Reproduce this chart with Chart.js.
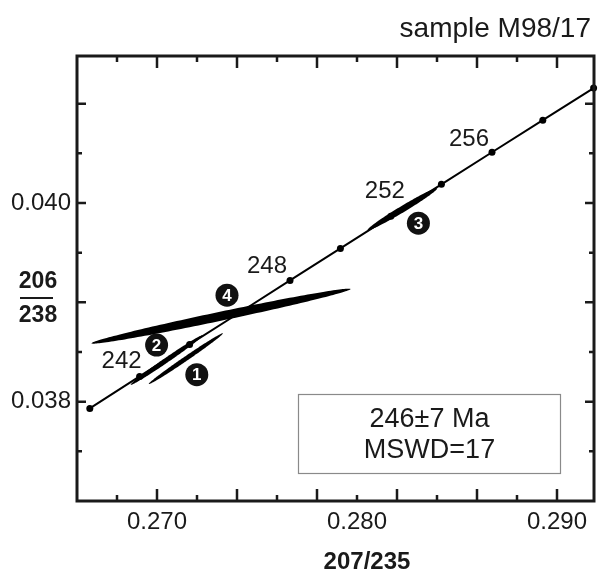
<!DOCTYPE html>
<html>
<head>
<meta charset="utf-8">
<script src="https://cdn.jsdelivr.net/npm/chart.js@4/dist/chart.umd.min.js"></script>
<style>
  html, body { margin: 0; padding: 0; background: #fff; }
  #wrap { width: 598px; height: 576px; }
</style>
</head>
<body>
<div id="wrap"><canvas id="concordia"></canvas></div>
<script>
// concordia nodes, every 2 Ma
const ages = [240, 242, 244, 246, 248, 250, 252, 254, 256, 258, 260];
const ratio207_235 = [0.26664, 0.26913, 0.27163, 0.27414, 0.27665, 0.27917, 0.28169, 0.28422, 0.28675, 0.28929, 0.29183];
const ratio206_238 = [0.037932, 0.038254, 0.038576, 0.038898, 0.039221, 0.039543, 0.039866, 0.040188, 0.040511, 0.040834, 0.041157];
const labelledAges = [242, 248, 252, 256];

// spot analyses: centre, error half-widths and x-y error correlation
const spots = ["1", "2", "3", "4"];
const spotX = [0.27144, 0.27048, 0.28227, 0.27320];
const spotSx = [0.001854, 0.001797, 0.001738, 0.006475];
const spotY = [0.038433, 0.038419, 0.039938, 0.038861];
const spotSy = [0.0002559, 0.0002495, 0.0002117, 0.0002769];
const spotRho = [0.9940, 0.9925, 0.9842, 0.9859];

const xTickLabels = ["0.270", "0.280", "0.290"];
const yTickLabels = ["0.038", "0.040"];
const resultLines = ["246\u00b17 Ma", "MSWD=17"];

const FONT = "'Liberation Sans', Arial, Helvetica, sans-serif";
const INK = "#1a1a1a";
const X_STEP = 0.002;
const Y_STEP = 0.0005;

// where the annotations sit, in pixels
const ageLabelOffset = { 242: [-18, -15], 248: [-23, -14], 252: [-6, -25], 256: [-23, -13] };
const spotBadgeOffset = [[11, 16], [-10, -15], [16, 14], [6, -21]];
const resultBox = { left: 298.5, top: 394.5, width: 262, height: 79 };

function findLabel(list, value) {
  return list.find(l => Math.abs(parseFloat(l) - value) < 1e-7) || "";
}

// error ellipses, filled black, under the concordia
const ellipses = {
  id: "ellipses",
  beforeDatasetsDraw(chart) {
    const { ctx, scales: { x, y } } = chart;
    ctx.save();
    ctx.fillStyle = "#000";
    spots.forEach((s, i) => {
      const k = Math.sqrt(1 - spotRho[i] * spotRho[i]);
      ctx.beginPath();
      for (let j = 0; j <= 180; j++) {
        const t = (j / 180) * Math.PI * 2;
        const vx = spotX[i] + spotSx[i] * Math.cos(t);
        const vy = spotY[i] + spotSy[i] * (spotRho[i] * Math.cos(t) + k * Math.sin(t));
        const px = x.getPixelForValue(vx);
        const py = y.getPixelForValue(vy);
        if (j === 0) ctx.moveTo(px, py); else ctx.lineTo(px, py);
      }
      ctx.closePath();
      ctx.fill();
    });
    ctx.restore();
  }
};

// box frame with inward ticks on all four sides
const frame = {
  id: "frame",
  afterDraw(chart) {
    const { ctx, chartArea: a, scales: { x, y } } = chart;
    ctx.save();
    ctx.strokeStyle = INK;
    ctx.lineWidth = 2.5;
    ctx.beginPath();
    x.ticks.forEach(t => {
      const px = x.getPixelForValue(t.value);
      if (px < a.left + 2 || px > a.right - 2) return;
      const len = Math.round((t.value - x.min) / X_STEP) % 2 === 0 ? 12 : 6;
      ctx.moveTo(px, a.bottom); ctx.lineTo(px, a.bottom - len);
      ctx.moveTo(px, a.top); ctx.lineTo(px, a.top + len);
    });
    y.ticks.forEach(t => {
      const py = y.getPixelForValue(t.value);
      if (py < a.top + 2 || py > a.bottom - 2) return;
      const len = Math.round((t.value - y.min) / Y_STEP) % 2 === 0 ? 9 : 5;
      ctx.moveTo(a.left, py); ctx.lineTo(a.left + len, py);
      ctx.moveTo(a.right, py); ctx.lineTo(a.right - len, py);
    });
    ctx.stroke();
    ctx.lineWidth = 3;
    ctx.strokeRect(a.left, a.top, a.right - a.left, a.bottom - a.top);
    ctx.restore();
  }
};

// titles, age labels, numbered spots and the result box
const annotations = {
  id: "annotations",
  afterDraw(chart) {
    const { ctx, scales: { x, y } } = chart;
    ctx.save();
    ctx.fillStyle = INK;

    ctx.font = "28px " + FONT;
    ctx.textAlign = "right";
    ctx.textBaseline = "alphabetic";
    ctx.fillText("sample M98/17", 591, 37);

    ctx.textAlign = "center";
    ctx.textBaseline = "middle";
    ctx.font = "bold 24px " + FONT;
    ctx.fillText("207/235", 367, 562);

    ctx.font = "bold 23px " + FONT;
    ctx.fillText("206", 38, 282);
    ctx.fillText("238", 38, 316);
    ctx.fillRect(20, 297, 33, 2);

    ctx.font = "24px " + FONT;
    labelledAges.forEach(age => {
      const i = ages.indexOf(age);
      const off = ageLabelOffset[age];
      ctx.fillText(String(age),
        x.getPixelForValue(ratio207_235[i]) + off[0],
        y.getPixelForValue(ratio206_238[i]) + off[1]);
    });

    spots.forEach((s, i) => {
      const cx = x.getPixelForValue(spotX[i]) + spotBadgeOffset[i][0];
      const cy = y.getPixelForValue(spotY[i]) + spotBadgeOffset[i][1];
      ctx.fillStyle = "#111";
      ctx.beginPath();
      ctx.arc(cx, cy, 11.5, 0, Math.PI * 2);
      ctx.fill();
      ctx.fillStyle = "#fff";
      ctx.font = "bold 17px " + FONT;
      ctx.fillText(s, cx, cy + 1);
    });

    const b = resultBox;
    ctx.strokeStyle = "#8a8a8a";
    ctx.lineWidth = 1.2;
    ctx.strokeRect(b.left, b.top, b.width, b.height);
    ctx.fillStyle = INK;
    ctx.font = "27px " + FONT;
    ctx.fillText(resultLines[0], b.left + b.width / 2, b.top + 25);
    ctx.fillText(resultLines[1], b.left + b.width / 2, b.top + 56);
    ctx.restore();
  }
};

const concordia = ages.map((a, i) => ({ x: ratio207_235[i], y: ratio206_238[i] }));

new Chart(document.getElementById("concordia"), {
  type: "scatter",
  data: {
    datasets: [{
      label: "concordia",
      data: concordia,
      showLine: true,
      borderColor: "#000",
      borderWidth: 2,
      pointRadius: 3.5,
      pointBackgroundColor: "#000",
      pointBorderWidth: 0,
      clip: false
    }]
  },
  options: {
    responsive: true,
    maintainAspectRatio: false,
    animation: false,
    layout: { padding: { top: 56, right: 1, left: 0, bottom: 0 } },
    plugins: { legend: { display: false }, tooltip: { enabled: false } },
    scales: {
      x: {
        type: "linear",
        min: 0.266,
        max: 0.29185,
        grid: { display: false, drawTicks: false },
        border: { display: false },
        afterFit: s => { s.height = 75; },
        ticks: {
          stepSize: X_STEP,
          includeBounds: false,
          autoSkip: false,
          maxRotation: 0,
          padding: 7,
          color: INK,
          font: { family: FONT, size: 24 },
          callback: v => findLabel(xTickLabels, v)
        }
      },
      y: {
        type: "linear",
        min: 0.037,
        max: 0.04148,
        grid: { display: false, drawTicks: false },
        border: { display: false },
        afterFit: s => { s.width = 77; },
        ticks: {
          stepSize: Y_STEP,
          includeBounds: false,
          autoSkip: false,
          padding: 6,
          color: INK,
          font: { family: FONT, size: 24 },
          callback: v => findLabel(yTickLabels, v)
        }
      }
    }
  },
  plugins: [ellipses, frame, annotations]
});
</script>
</body>
</html>
